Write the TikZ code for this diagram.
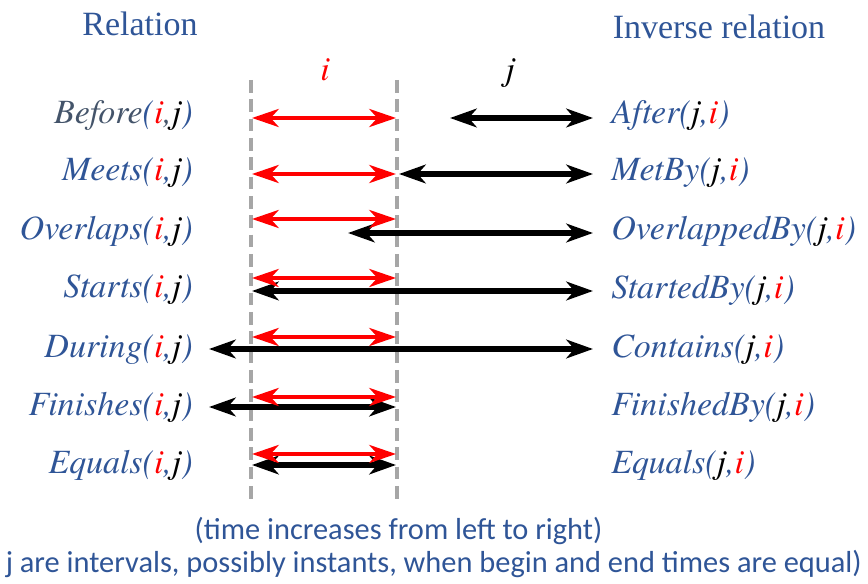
\documentclass[tikz,border=0pt]{standalone}
\usepackage{fontspec}
\setmainfont{Liberation Serif}
\IfFontExistsTF{texgyretermes-italic.otf}
  {\newfontfamily\labit{texgyretermes-italic.otf}}
  {\newfontfamily\labit{lmroman10-italic.otf}}
\newfontfamily\calib{Carlito}
\usetikzlibrary{arrows.meta}
\definecolor{relblue}{HTML}{2F5597}
\definecolor{relgray}{HTML}{44546A}
\definecolor{dashgray}{HTML}{A6A6A6}
\newcommand{\ri}{\textcolor{red}{i}}
\newcommand{\bj}{\textcolor{black}{j}}
\tikzset{
  ivred/.style={line width=3.1pt, red, {Stealth[length=20pt,width=13.5pt,inset=6pt]}-{Stealth[length=20pt,width=13.5pt,inset=6pt]}},
  ivblack/.style={line width=3.8pt, black, {Stealth[length=20pt,width=14pt,inset=6pt]}-{Stealth[length=20pt,width=14pt,inset=6pt]}},
  lbl/.style={font=\labit\fontsize{25.5pt}{28pt}\selectfont, text=relblue, inner sep=0pt},
  lleft/.style={lbl, anchor=east},
  lright/.style={lbl, anchor=west},
  head/.style={font=\fontsize{25.5pt}{28pt}\selectfont, text=relblue, inner sep=0pt, anchor=base},
  foot/.style={font=\calib\fontsize{22.8pt}{26pt}\selectfont, text=relblue, inner sep=0pt},
  bound/.style={dashgray, line width=2.4pt, dash pattern=on 9.5pt off 5pt}
}
\begin{document}
\begin{tikzpicture}[x=0.75pt,y=-0.75pt]
\useasboundingbox (0,0) rectangle (868,584);
% headers
\node[head] (hrel) at (140,36) {Relation};
\node[head] (hinv) at (719,39) {Inverse relation};
\node[head, font=\labit\fontsize{25.5pt}{28pt}\selectfont, text=red] (li) at (325,81) {i};
\node[head, font=\labit\fontsize{25.5pt}{28pt}\selectfont, text=black] (lj) at (510,81) {j};
% boundaries
\coordinate (ltop) at (251,80);
\coordinate (lbot) at (251,500);
\coordinate (rtop) at (397,80);
\coordinate (rbot) at (397,500);
\draw[bound] (ltop) -- (lbot);
\draw[bound] (rtop) -- (rbot);
% left labels
\node[lleft, text=relgray] (r1) at (193,115) {Before\textcolor{relblue}{(}\ri,\bj\textcolor{relblue}{)}};
\node[lleft] (r2) at (193,173) {Meets(\ri,\bj)};
\node[lleft] (r3) at (193,231) {Overlaps(\ri,\bj)};
\node[lleft] (r4) at (193,290) {Starts(\ri,\bj)};
\node[lleft] (r5) at (193,350) {During(\ri,\bj)};
\node[lleft] (r6) at (193,407.5) {Finishes(\ri,\bj)};
\node[lleft] (r7) at (193,465) {Equals(\ri,\bj)};
% right labels
\node[lright] (s1) at (611,115) {After(\bj,\ri)};
\node[lright] (s2) at (611,173) {MetBy(\bj,\ri)};
\node[lright] (s3) at (611,231) {OverlappedBy(\bj,\ri)};
\node[lright] (s4) at (611,290) {StartedBy(\bj,\ri)};
\node[lright] (s5) at (611,350) {Contains(\bj,\ri)};
\node[lright] (s6) at (611,407.5) {FinishedBy(\bj,\ri)};
\node[lright] (s7) at (611,465) {Equals(\bj,\ri)};
% interval end points
\coordinate (a1) at (252,118); \coordinate (b1) at (396,118);
\coordinate (c1) at (450,118); \coordinate (d1) at (593,118);
\coordinate (a2) at (252,174); \coordinate (b2) at (396,174);
\coordinate (c2) at (399,174); \coordinate (d2) at (593,174);
\coordinate (a3) at (252,219); \coordinate (b3) at (396,219);
\coordinate (c3) at (348,233); \coordinate (d3) at (593,233);
\coordinate (a4) at (252,278); \coordinate (b4) at (396,278);
\coordinate (c4) at (252,291); \coordinate (d4) at (593,291);
\coordinate (a5) at (252,337); \coordinate (b5) at (396,337);
\coordinate (c5) at (209,349); \coordinate (d5) at (593,349);
\coordinate (a6) at (252,397); \coordinate (b6) at (396,397);
\coordinate (c6) at (209,407); \coordinate (d6) at (396,407);
\coordinate (a7) at (252,454); \coordinate (b7) at (396,454);
\coordinate (c7) at (252,465); \coordinate (d7) at (396,465);
\foreach \k in {1,...,7}{
  \draw[ivblack] (c\k) -- (d\k);
  \draw[ivred] (a\k) -- (b\k);
}
% footer
\node[foot, anchor=base] (f1) at (398.5,540) {(time increases from left to right)};
\node[foot, anchor=base east] (f2) at (862,572) {j are intervals, possibly instants, when begin and end times are equal)};
\end{tikzpicture}
\end{document}
